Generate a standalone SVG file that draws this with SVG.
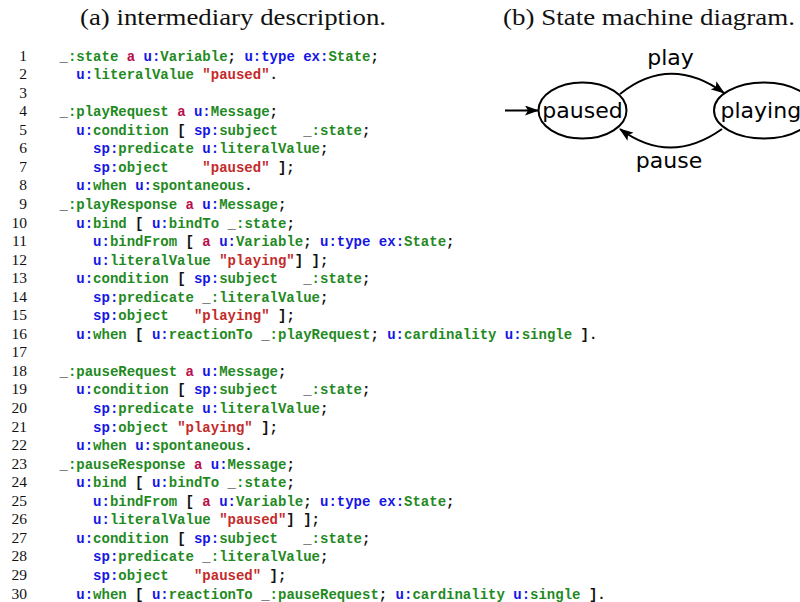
<svg xmlns="http://www.w3.org/2000/svg" width="800" height="602" viewBox="0 0 800 602">
  <style>
    .cap { font-family: "Liberation Serif", "DejaVu Serif", serif; font-size: 24px; fill: #111; }
    .ln { font-family: "Liberation Serif", "DejaVu Serif", serif; font-size: 15.5px; fill: #111; text-anchor: end; }
    .code { font-family: "Liberation Mono", "DejaVu Sans Mono", monospace; font-size: 14px; font-weight: bold; fill: #111; }
    .k { fill: #1515e6; }
    .g { fill: #1f8a1f; }
    .r { fill: #b8104c; }
    .s { fill: #c42a2a; }
    .node { fill: #fff; stroke: #000; stroke-width: 2; }
    .lbl { font-family: "DejaVu Sans", "Liberation Sans", sans-serif; font-size: 22px; fill: #000; }
    .edge { fill: none; stroke: #000; stroke-width: 2; }
  </style>
  <defs>
    <marker id="head" viewBox="0 0 14 10" refX="13" refY="5" markerWidth="14" markerHeight="10" markerUnits="userSpaceOnUse" orient="auto">
      <path d="M0,0 L14,5 L0,10 L3,5 Z" fill="#000"/>
    </marker>
  </defs>
  <rect width="800" height="602" fill="#fff"/>

  <!-- captions -->
  <text class="cap" x="80" y="25" textLength="306" lengthAdjust="spacingAndGlyphs">(a) intermediary description.</text>
  <text class="cap" x="503" y="25" textLength="292" lengthAdjust="spacingAndGlyphs">(b) State machine diagram.</text>

  <!-- line numbers -->
  <g id="line-numbers">
    <text class="ln" x="27" y="60.5">1</text>
    <text class="ln" x="27" y="79.1">2</text>
    <text class="ln" x="27" y="97.6">3</text>
    <text class="ln" x="27" y="116.2">4</text>
    <text class="ln" x="27" y="134.7">5</text>
    <text class="ln" x="27" y="153.3">6</text>
    <text class="ln" x="27" y="171.8">7</text>
    <text class="ln" x="27" y="190.4">8</text>
    <text class="ln" x="27" y="208.9">9</text>
    <text class="ln" x="27" y="227.5">10</text>
    <text class="ln" x="27" y="246.0">11</text>
    <text class="ln" x="27" y="264.6">12</text>
    <text class="ln" x="27" y="283.1">13</text>
    <text class="ln" x="27" y="301.7">14</text>
    <text class="ln" x="27" y="320.2">15</text>
    <text class="ln" x="27" y="338.8">16</text>
    <text class="ln" x="27" y="357.3">17</text>
    <text class="ln" x="27" y="375.9">18</text>
    <text class="ln" x="27" y="394.4">19</text>
    <text class="ln" x="27" y="413.0">20</text>
    <text class="ln" x="27" y="431.5">21</text>
    <text class="ln" x="27" y="450.1">22</text>
    <text class="ln" x="27" y="468.6">23</text>
    <text class="ln" x="27" y="487.2">24</text>
    <text class="ln" x="27" y="505.7">25</text>
    <text class="ln" x="27" y="524.3">26</text>
    <text class="ln" x="27" y="542.8">27</text>
    <text class="ln" x="27" y="561.4">28</text>
    <text class="ln" x="27" y="579.9">29</text>
    <text class="ln" x="27" y="598.5">30</text>
  </g>

  <!-- Turtle listing: indent levels at 59.5 / 76.3 / 93.1; runs of spaces use nbsp -->
  <g id="listing" class="code">
    <text x="59.5" y="60.5">_<tspan class="g">:state</tspan> <tspan class="r">a</tspan> <tspan class="k">u:</tspan><tspan class="g">Variable</tspan>; <tspan class="k">u:type</tspan> <tspan class="k">ex:</tspan><tspan class="g">State</tspan>;</text>
    <text x="76.3" y="79.1"><tspan class="k">u:</tspan><tspan class="g">literalValue</tspan> <tspan class="s">"paused"</tspan>.</text>

    <text x="59.5" y="116.2">_<tspan class="g">:playRequest</tspan> <tspan class="r">a</tspan> <tspan class="k">u:</tspan><tspan class="g">Message</tspan>;</text>
    <text x="76.3" y="134.7"><tspan class="k">u:</tspan><tspan class="g">condition</tspan> [ <tspan class="k">sp:</tspan><tspan class="g">subject</tspan>&#160;&#160;&#160;_<tspan class="g">:state</tspan>;</text>
    <text x="93.1" y="153.3"><tspan class="k">sp:</tspan><tspan class="g">predicate</tspan> <tspan class="k">u:</tspan><tspan class="g">literalValue</tspan>;</text>
    <text x="93.1" y="171.8"><tspan class="k">sp:</tspan><tspan class="g">object</tspan>&#160;&#160;&#160;&#160;<tspan class="s">"paused"</tspan> ];</text>
    <text x="76.3" y="190.4"><tspan class="k">u:</tspan><tspan class="g">when</tspan> <tspan class="k">u:</tspan><tspan class="g">spontaneous</tspan>.</text>
    <text x="59.5" y="208.9">_<tspan class="g">:playResponse</tspan> <tspan class="r">a</tspan> <tspan class="k">u:</tspan><tspan class="g">Message</tspan>;</text>
    <text x="76.3" y="227.5"><tspan class="k">u:</tspan><tspan class="g">bind</tspan> [ <tspan class="k">u:</tspan><tspan class="g">bindTo</tspan> _<tspan class="g">:state</tspan>;</text>
    <text x="93.1" y="246.0"><tspan class="k">u:</tspan><tspan class="g">bindFrom</tspan> [ <tspan class="r">a</tspan> <tspan class="k">u:</tspan><tspan class="g">Variable</tspan>; <tspan class="k">u:type</tspan> <tspan class="k">ex:</tspan><tspan class="g">State</tspan>;</text>
    <text x="93.1" y="264.6"><tspan class="k">u:</tspan><tspan class="g">literalValue</tspan> <tspan class="s">"playing"</tspan>] ];</text>
    <text x="76.3" y="283.1"><tspan class="k">u:</tspan><tspan class="g">condition</tspan> [ <tspan class="k">sp:</tspan><tspan class="g">subject</tspan>&#160;&#160;&#160;_<tspan class="g">:state</tspan>;</text>
    <text x="93.1" y="301.7"><tspan class="k">sp:</tspan><tspan class="g">predicate</tspan> _<tspan class="g">:literalValue</tspan>;</text>
    <text x="93.1" y="320.2"><tspan class="k">sp:</tspan><tspan class="g">object</tspan>&#160;&#160;&#160;<tspan class="s">"playing"</tspan> ];</text>
    <text x="76.3" y="338.8"><tspan class="k">u:</tspan><tspan class="g">when</tspan> [ <tspan class="k">u:</tspan><tspan class="g">reactionTo</tspan> _<tspan class="g">:playRequest</tspan>; <tspan class="k">u:</tspan><tspan class="g">cardinality</tspan> <tspan class="k">u:</tspan><tspan class="g">single</tspan> ].</text>

    <text x="59.5" y="375.9">_<tspan class="g">:pauseRequest</tspan> <tspan class="r">a</tspan> <tspan class="k">u:</tspan><tspan class="g">Message</tspan>;</text>
    <text x="76.3" y="394.4"><tspan class="k">u:</tspan><tspan class="g">condition</tspan> [ <tspan class="k">sp:</tspan><tspan class="g">subject</tspan>&#160;&#160;&#160;_<tspan class="g">:state</tspan>;</text>
    <text x="93.1" y="413.0"><tspan class="k">sp:</tspan><tspan class="g">predicate</tspan> <tspan class="k">u:</tspan><tspan class="g">literalValue</tspan>;</text>
    <text x="93.1" y="431.5"><tspan class="k">sp:</tspan><tspan class="g">object</tspan> <tspan class="s">"playing"</tspan> ];</text>
    <text x="76.3" y="450.1"><tspan class="k">u:</tspan><tspan class="g">when</tspan> <tspan class="k">u:</tspan><tspan class="g">spontaneous</tspan>.</text>
    <text x="59.5" y="468.6">_<tspan class="g">:pauseResponse</tspan> <tspan class="r">a</tspan> <tspan class="k">u:</tspan><tspan class="g">Message</tspan>;</text>
    <text x="76.3" y="487.2"><tspan class="k">u:</tspan><tspan class="g">bind</tspan> [ <tspan class="k">u:</tspan><tspan class="g">bindTo</tspan> _<tspan class="g">:state</tspan>;</text>
    <text x="93.1" y="505.7"><tspan class="k">u:</tspan><tspan class="g">bindFrom</tspan> [ <tspan class="r">a</tspan> <tspan class="k">u:</tspan><tspan class="g">Variable</tspan>; <tspan class="k">u:type</tspan> <tspan class="k">ex:</tspan><tspan class="g">State</tspan>;</text>
    <text x="93.1" y="524.3"><tspan class="k">u:</tspan><tspan class="g">literalValue</tspan> <tspan class="s">"paused"</tspan>] ];</text>
    <text x="76.3" y="542.8"><tspan class="k">u:</tspan><tspan class="g">condition</tspan> [ <tspan class="k">sp:</tspan><tspan class="g">subject</tspan>&#160;&#160;&#160;_<tspan class="g">:state</tspan>;</text>
    <text x="93.1" y="561.4"><tspan class="k">sp:</tspan><tspan class="g">predicate</tspan> _<tspan class="g">:literalValue</tspan>;</text>
    <text x="93.1" y="579.9"><tspan class="k">sp:</tspan><tspan class="g">object</tspan>&#160;&#160;&#160;<tspan class="s">"paused"</tspan> ];</text>
    <text x="76.3" y="598.5"><tspan class="k">u:</tspan><tspan class="g">when</tspan> [ <tspan class="k">u:</tspan><tspan class="g">reactionTo</tspan> _<tspan class="g">:pauseRequest</tspan>; <tspan class="k">u:</tspan><tspan class="g">cardinality</tspan> <tspan class="k">u:</tspan><tspan class="g">single</tspan> ].</text>
  </g>

  <!-- state machine -->
  <g id="connectors">
    <path class="edge" d="M505,110.5 L538,110.5" marker-end="url(#head)"/>
    <path class="edge" d="M620,94 Q670,54 724,93" marker-end="url(#head)"/>
    <text class="lbl" x="670.5" y="65" text-anchor="middle">play</text>
    <path class="edge" d="M722,129 Q670,166 620,129" marker-end="url(#head)"/>
    <text class="lbl" x="669" y="168" text-anchor="middle">pause</text>
  </g>
  <g id="state-paused">
    <ellipse class="node" cx="582.5" cy="110.5" rx="44" ry="28"/>
    <text class="lbl" x="582.5" y="118" text-anchor="middle">paused</text>
  </g>
  <g id="state-playing">
    <ellipse class="node" cx="764" cy="110.5" rx="50" ry="28"/>
    <text class="lbl" x="720.5" y="118">playing</text>
  </g>
</svg>
